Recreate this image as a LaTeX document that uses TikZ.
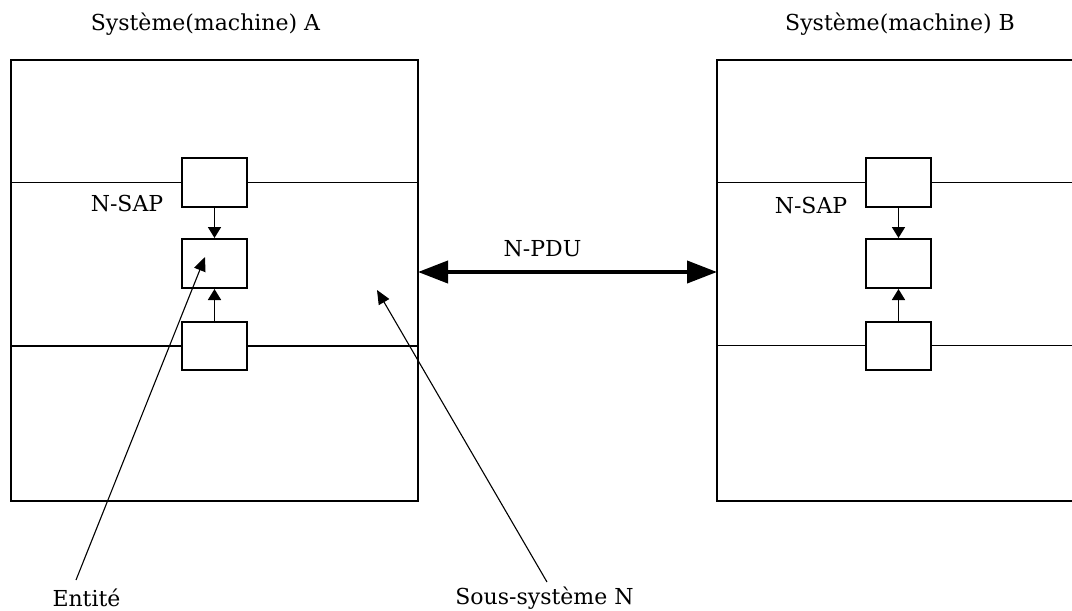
\documentclass[tikz,border=0pt]{standalone}
\usepackage{fontspec}
\setmainfont{DejaVu Serif}
\usetikzlibrary{arrows.meta}
\begin{document}
\begin{tikzpicture}[x=1pt,y=-1pt,
  sysbox/.style={rectangle, inner sep=0pt, outer sep=0pt, anchor=north west,
                 minimum height=441pt, line width=2pt},
  sapbox/.style={draw, rectangle, inner sep=0pt, fill=white, line width=2pt,
                 minimum width=65pt, minimum height=49pt},
  layer/.style={line width=1.7pt},
  txt/.style={font=\fontsize{22}{26}\selectfont, inner sep=0pt},
  flow/.style={line width=1.8pt, -{Triangle[length=11pt,width=13pt]}},
  pdu/.style={line width=4pt,
              {Triangle[length=30pt,width=22pt]}-{Triangle[length=30pt,width=22pt]}},
  pointer/.style={line width=1.1pt, -{Triangle[length=14pt,width=12pt]}}
]
\useasboundingbox (0,0) rectangle (1072,611);

% machine A
\node[sysbox, draw, minimum width=407pt] (sysA) at (11,60) {};
\node[txt] (titleA) at (205.5,24) {Système(machine) A};
\node[sapbox] (sapA1) at (214.5,182.5) {};
\node[sapbox] (sapA2) at (214.5,263.5) {};
\node[sapbox, minimum height=48pt] (sapA3) at (214.5,346) {};
\draw[layer] (sysA.west |- sapA1) -- (sapA1.west);
\draw[layer] (sapA1.east) -- (sysA.east |- sapA1);
\draw[layer] (sysA.west |- sapA3) -- (sapA3.west);
\draw[layer] (sapA3.east) -- (sysA.east |- sapA3);
\draw[flow] (sapA1.south) -- (sapA2.north);
\draw[flow] (sapA3.north) -- (sapA2.south);
\node[txt] (sapLabelA) at (127,203) {N-SAP};

% machine B (continues past the right margin)
\node[sysbox, minimum width=356pt] (sysB) at (717,60) {};
\draw[line width=2pt] (sysB.north east) -- (sysB.north west)
  -- (sysB.south west) -- (sysB.south east);
\node[txt] (titleB) at (900,24) {Système(machine) B};
\node[sapbox] (sapB1) at (898.5,182.5) {};
\node[sapbox] (sapB2) at (898.5,263.5) {};
\node[sapbox, minimum height=48pt] (sapB3) at (898.5,345.5) {};
\draw[layer] (sysB.west |- sapB1) -- (sapB1.west);
\draw[layer] (sapB1.east) -- (sysB.east |- sapB1);
\draw[layer] (sysB.west |- sapB3) -- (sapB3.west);
\draw[layer] (sapB3.east) -- (sysB.east |- sapB3);
\draw[flow] (sapB1.south) -- (sapB2.north);
\draw[flow] (sapB3.north) -- (sapB2.south);
\node[txt] (sapLabelB) at (811,205) {N-SAP};

% peer protocol exchange
\coordinate (pduLevel) at (0,272);
\draw[pdu] (sysA.east |- pduLevel) -- (sysB.west |- pduLevel);
\node[txt] (pduLabel) at (542.5,249) {N-PDU};

% callouts
\node[txt] (entite) at (86.5,598) {Entité};
\coordinate (entiteFrom) at (76,580);
\coordinate (entiteTo) at (205,257);
\draw[pointer] (entiteFrom) -- (entiteTo);

\node[txt] (sousSys) at (544.5,598) {Sous-système N};
\coordinate (sousSysFrom) at (547,582);
\coordinate (sousSysTo) at (377,290);
\draw[pointer] (sousSysFrom) -- (sousSysTo);
\end{tikzpicture}
\end{document}
